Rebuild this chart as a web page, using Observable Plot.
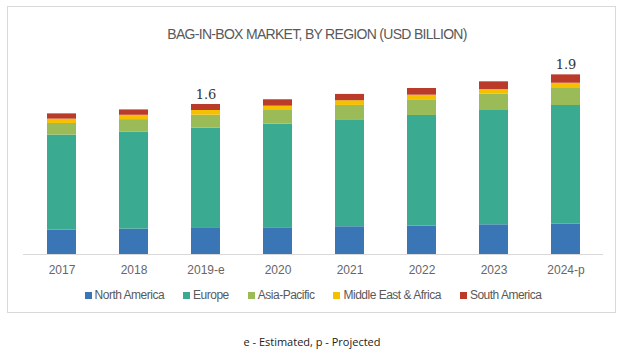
<!DOCTYPE html>
<html>
<head>
<meta charset="utf-8">
<script src="https://cdn.jsdelivr.net/npm/d3@7"></script>
<script src="https://cdn.jsdelivr.net/npm/@observablehq/plot@0.6"></script>
<style>
  html, body { margin: 0; padding: 0; background: #fff; }
  #wrap { position: relative; width: 624px; height: 354px; overflow: hidden; }
  #frame { position: absolute; left: 7px; top: 6px; width: 609px; height: 307px; border: 1px solid #d9d9d9; box-sizing: border-box; }
  #title { position: absolute; left: 0; width: 634px; top: 26px; text-align: center; font-family: "Liberation Sans", sans-serif; font-size: 14px; letter-spacing: -0.7px; color: #595959; }
  #chart { position: absolute; left: 0; top: 0; }
  #legend { position: absolute; left: 0; width: 626px; top: 288px; display: flex; justify-content: center; gap: 19px; font-family: "Liberation Sans", sans-serif; font-size: 12px; letter-spacing: -0.5px; color: #595959; }
  #legend .item { display: flex; align-items: center; }
  #legend .sw { width: 7px; height: 7px; margin-right: 3px; }
  #caption { position: absolute; left: 0; width: 624px; top: 334px; text-align: center; font-family: "Open Sans", sans-serif; font-size: 11px; color: #222; }
</style>
</head>
<body>
<div id="wrap">
  <div id="frame"></div>
  <div id="title">BAG-IN-BOX MARKET, BY REGION (USD BILLION)</div>
  <div id="chart"></div>
  <div id="legend"></div>
  <div id="caption">e - Estimated, p - Projected</div>
</div>
<script>
const years = ["2017", "2018", "2019-e", "2020", "2021", "2022", "2023", "2024-p"];
const regions = ["North America", "Europe", "Asia-Pacific", "Middle East & Africa", "South America"];
const colors = ["#3a75b6", "#3aaa91", "#9bbb59", "#f5c000", "#bb3b2b"];
const northAmerica = [0.26, 0.27, 0.277, 0.284, 0.295, 0.301, 0.316, 0.322];
const europe       = [1.01, 1.03, 1.067, 1.102, 1.131, 1.178, 1.216, 1.263];
const asiaPacific  = [0.124, 0.135, 0.138, 0.146, 0.16, 0.16, 0.173, 0.181];
const middleEastAfrica = [0.046, 0.046, 0.05, 0.046, 0.05, 0.056, 0.05, 0.056];
const southAmerica = [0.056, 0.057, 0.064, 0.068, 0.067, 0.071, 0.082, 0.089];
const labelYears = ["2019-e", "2024-p"];
const labelTexts = ["1.6", "1.9"];

const series = [northAmerica, europe, asiaPacific, middleEastAfrica, southAmerica];
const rows = [];
years.forEach((yr, i) => {
  regions.forEach((r, j) => rows.push({year: yr, region: r, value: series[j][i]}));
});
const totals = years.map((yr, i) => series.reduce((s, a) => s + a[i], 0));
const labels = labelYears.map((yr, k) => ({year: yr, total: totals[years.indexOf(yr)], text: labelTexts[k]}));

const chart = Plot.plot({
  width: 624,
  height: 280,
  marginLeft: 23,
  marginRight: 21,
  marginTop: 66,
  marginBottom: 26,
  style: {fontFamily: "'Liberation Sans', sans-serif", fontSize: "12px", color: "#666", background: "transparent"},
  x: {domain: years, paddingInner: 0.6, paddingOuter: 0.3, label: null, tickSize: 0, tickPadding: 11},
  y: {domain: [0, 2], axis: null},
  color: {domain: regions, range: colors},
  marks: [
    Plot.barY(rows, Plot.stackY({x: "year", y: "value", fill: "region", order: regions})),
    Plot.ruleY([0], {stroke: "#d9d9d9", strokeWidth: 1}),
    Plot.text(labels, {x: "year", y: "total", text: "text", dy: -10, fill: "#333", fontSize: 13, fontFamily: "'DejaVu Serif', serif"})
  ]
});
document.getElementById("chart").appendChild(chart);

const legend = document.getElementById("legend");
regions.forEach((r, j) => {
  const it = document.createElement("div");
  it.className = "item";
  const sw = document.createElement("span");
  sw.className = "sw";
  sw.style.background = colors[j];
  const t = document.createElement("span");
  t.textContent = r;
  it.appendChild(sw);
  it.appendChild(t);
  legend.appendChild(it);
});
</script>
</body>
</html>
